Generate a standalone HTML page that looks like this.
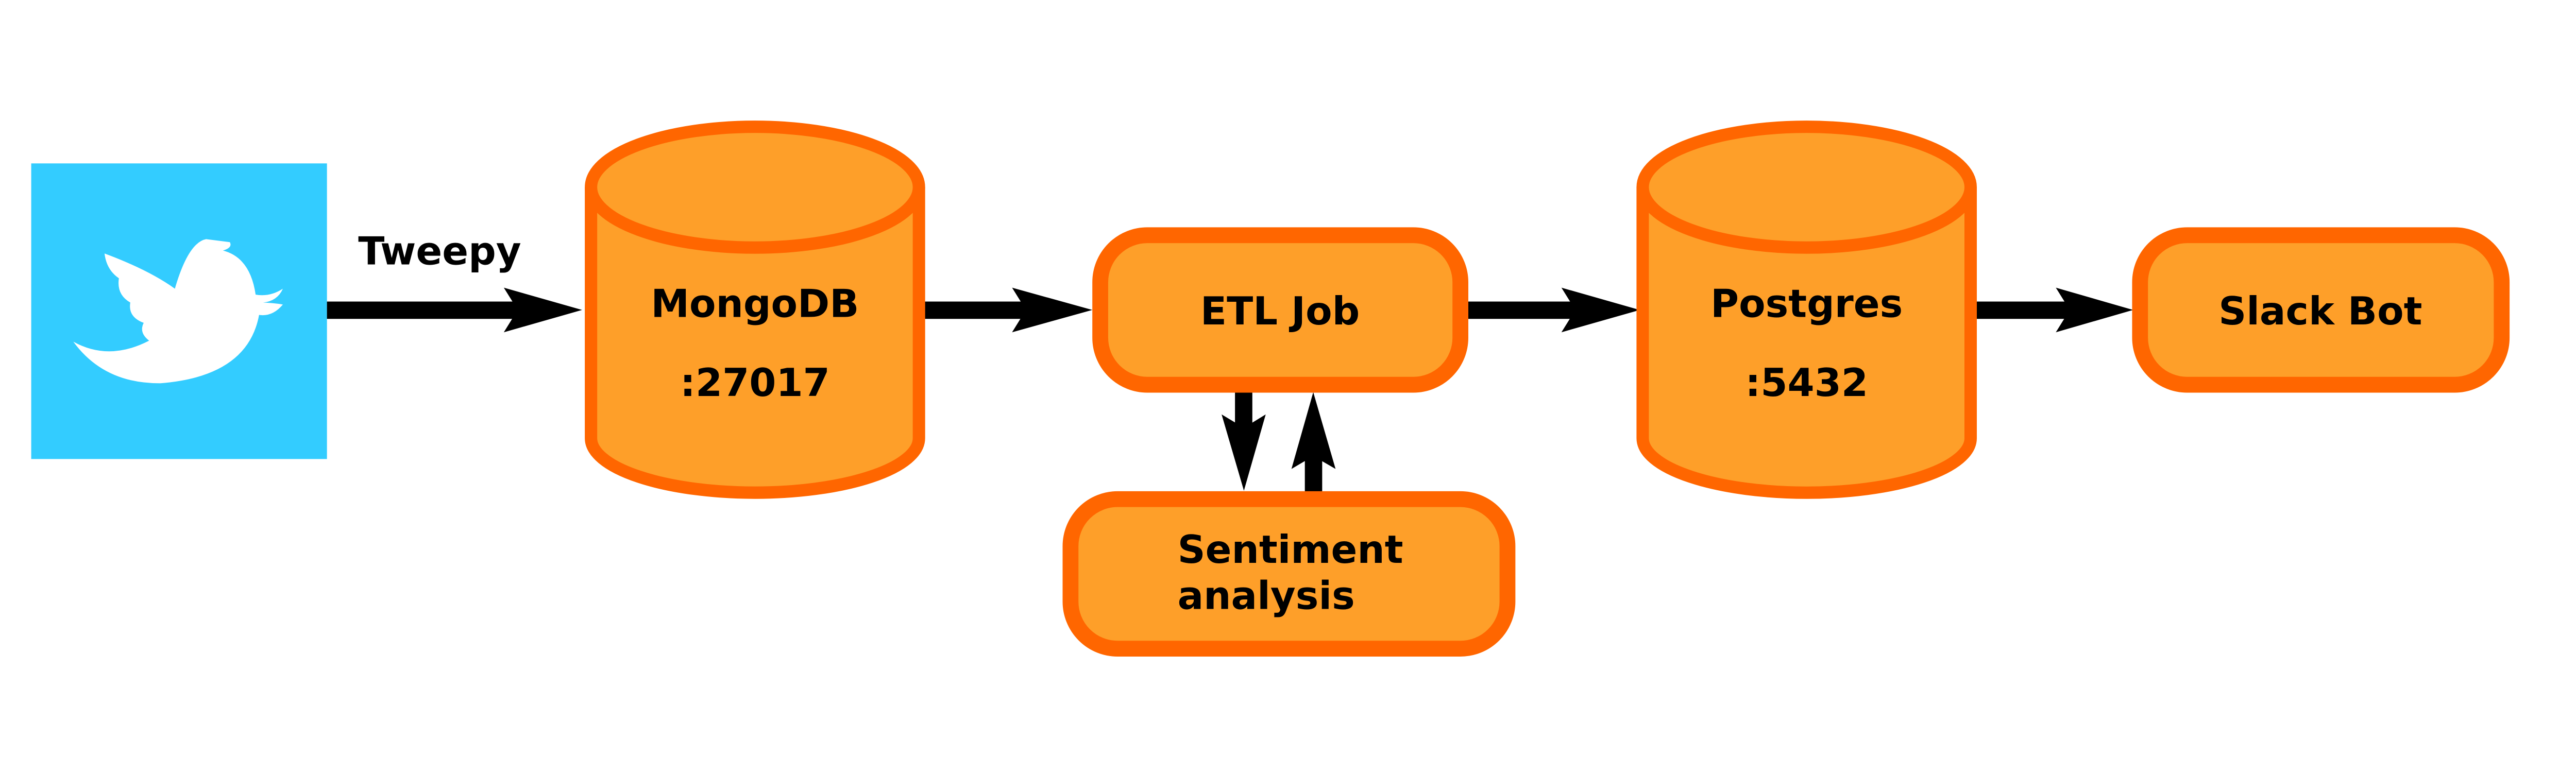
<!DOCTYPE html>
<html><head><meta charset="utf-8"><style>
html,body{margin:0;padding:0;background:#fff;width:100%;overflow:hidden;}
svg{display:block;width:100vw;height:28.2692vw;}
text{font-family:"DejaVu Sans","Liberation Sans",sans-serif;font-weight:bold;fill:#000;}
</style></head><body>
<svg viewBox="0 0 5200 1470" preserveAspectRatio="xMidYMin meet" xmlns="http://www.w3.org/2000/svg">
<rect width="5200" height="1470" fill="#fff"/>
<rect x="63" y="330" width="597" height="597" fill="#33ccff"/>
<path fill="#fff" d="M148,690 Q220,730 301,688 Q280,672 290,652 Q258,640 263,611 Q235,595 240,562 Q215,545 211,512 Q300,545 353,583 Q380,490 416,483 L464,489 Q470,500 450,506 Q505,520 516,595 Q545,600 571,583 Q560,608 531,611 Q555,612 571,615 Q550,640 523,636 Q500,760 324,774 Q210,775 148,690 Z"/>
<g fill="#000">
<rect x="660" y="609" width="400" height="35"/>
<path d="M1175,626 L1017,581 L1045,626 L1017,671 Z"/>
<rect x="1865" y="609" width="220" height="35"/>
<path d="M2205,626 L2043,581 L2071,626 L2043,671 Z"/>
<rect x="2960" y="609" width="230" height="35"/>
<path d="M3310,626 L3152,581 L3180,626 L3152,671 Z"/>
<rect x="3985" y="609" width="200" height="35"/>
<path d="M4306,626 L4150,581 L4178,626 L4150,671 Z"/>
<rect x="2493" y="785" width="35" height="90"/>
<path d="M2511,991 L2466,837 L2511,864 L2555,837 Z"/>
<rect x="2634" y="910" width="35" height="86"/>
<path d="M2651,792 L2607,947 L2651,921 L2696,947 Z"/>
</g>
<g fill="#fe9f29" stroke="#ff6600" stroke-width="25">
<path d="M1193,378 L1193,885 A331,110 0 0 0 1855,885 L1855,378"/>
<ellipse cx="1524" cy="378" rx="331" ry="122"/>
<path d="M3316,378 L3316,885 A331,110 0 0 0 3978,885 L3978,378"/>
<ellipse cx="3647" cy="378" rx="331" ry="122"/>
</g>
<g fill="#fe9f29" stroke="#ff6600" stroke-width="32">
<rect x="2221" y="475" width="727" height="302" rx="95" ry="95"/>
<rect x="4320" y="475" width="730" height="302" rx="95" ry="95"/>
<rect x="2161" y="1008" width="882" height="302" rx="95" ry="95"/>
</g>
<g font-size="78">
<text x="723" y="534">Tweepy</text>
<text x="1524" y="640" text-anchor="middle">MongoDB</text>
<text x="1524" y="800" text-anchor="middle">:27017</text>
<text x="2584" y="655" text-anchor="middle">ETL Job</text>
<text x="3647" y="640" text-anchor="middle">Postgres</text>
<text x="3647" y="800" text-anchor="middle">:5432</text>
<text x="4684" y="655" text-anchor="middle">Slack Bot</text>
<text x="2377" y="1137">Sentiment</text>
<text x="2377" y="1230">analysis</text>
</g>
</svg>
</body></html>
